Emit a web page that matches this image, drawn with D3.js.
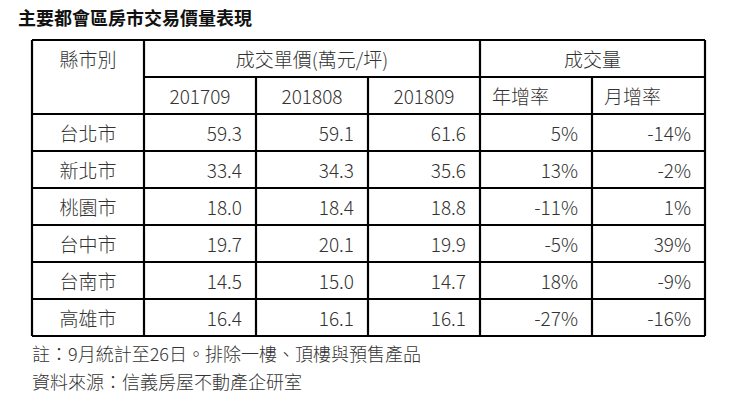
<!DOCTYPE html>
<html><head><meta charset="utf-8">
<script src="https://cdn.jsdelivr.net/npm/d3@7"></script>
<style>body{margin:0;background:#fff}</style></head>
<body><svg id="c" width="732" height="404"></svg>
<script>
const title = "主要都會區房市交易價量表現";
const cities = ["台北市","新北市","桃園市","台中市","台南市","高雄市"];
const price201709 = ["59.3","33.4","18.0","19.7","14.5","16.4"];
const price201808 = ["59.1","34.3","18.4","20.1","15.0","16.1"];
const price201809 = ["61.6","35.6","18.8","19.9","14.7","16.1"];
const yoy = ["5%","13%","-11%","-5%","18%","-27%"];
const mom = ["-14%","-2%","1%","39%","-9%","-16%"];
const notes = ["註：9月統計至26日。排除一樓、頂樓與預售產品","資料來源：信義房屋不動產企研室"];

const svg = d3.select("#c");
const F = "'Noto Sans CJK TC','Noto Sans',sans-serif";
const colX = [32,144,256,368,480,592,705];
const rowY = [40,77,114,151,188,225,262,299,336];
const fs = 19, col="#333";

svg.append("text").attr("x",18).attr("y",25).attr("font-family",F).attr("font-weight",700)
  .attr("font-size",18).attr("fill","#111").text(title);

function t(x,y,s,anchor){svg.append("text").attr("x",x).attr("y",y).attr("text-anchor",anchor)
  .attr("dominant-baseline","central").attr("font-family",F).attr("font-weight",300)
  .attr("font-size",fs).attr("fill",col).text(s);}

t((colX[0]+colX[1])/2,(rowY[0]+rowY[1])/2,"縣市別","middle");
t((colX[1]+colX[4])/2,(rowY[0]+rowY[1])/2,"成交單價(萬元/坪)","middle");
t((colX[4]+colX[6])/2,(rowY[0]+rowY[1])/2,"成交量","middle");
["201709","201808","201809"].forEach((s,i)=>t((colX[i+1]+colX[i+2])/2,(rowY[1]+rowY[2])/2,s,"middle"));
t(colX[4]+12,(rowY[1]+rowY[2])/2,"年增率","start");
t(colX[5]+12,(rowY[1]+rowY[2])/2,"月增率","start");

const cols=[price201709,price201808,price201809,yoy,mom];
cities.forEach((c,r)=>{
  const y=(rowY[r+2]+rowY[r+3])/2;
  t((colX[0]+colX[1])/2,y,c,"middle");
  cols.forEach((arr,j)=>t(colX[j+2]-14,y,arr[r],"end"));
});

const L=(x1,y1,x2,y2)=>svg.append("line").attr("x1",x1).attr("y1",y1).attr("x2",x2).attr("y2",y2)
  .attr("stroke","#000").attr("stroke-width",2.2);
L(colX[0],rowY[0],colX[6],rowY[0]);
L(colX[1],rowY[1],colX[6],rowY[1]);
for(let i=2;i<rowY.length;i++) L(colX[0],rowY[i],colX[6],rowY[i]);
L(colX[0],rowY[0],colX[0],rowY[8]);
L(colX[1],rowY[0],colX[1],rowY[8]);
L(colX[2],rowY[1],colX[2],rowY[8]);
L(colX[3],rowY[1],colX[3],rowY[8]);
L(colX[4],rowY[0],colX[4],rowY[8]);
L(colX[5],rowY[1],colX[5],rowY[8]);
L(colX[6],rowY[0],colX[6],rowY[8]);

notes.forEach((n,i)=>svg.append("text").attr("x",32).attr("y",361+i*28).attr("font-family",F)
  .attr("font-weight",300).attr("font-size",18).attr("fill",col).text(n));
</script></body></html>
